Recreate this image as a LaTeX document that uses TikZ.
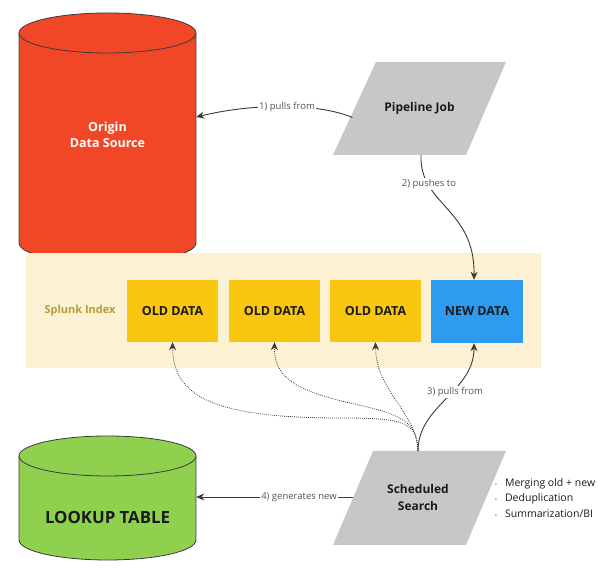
\documentclass[tikz,border=0pt]{standalone}
\usepackage{fontspec}
\setmainfont{Open Sans}
\usetikzlibrary{calc,arrows.meta}
\definecolor{cred}{HTML}{F24726}
\definecolor{cgreen}{HTML}{8FD14F}
\definecolor{cgrey}{HTML}{C9C7C5}
\definecolor{cyellow}{HTML}{FAC710}
\definecolor{cblue}{HTML}{2D9BF0}
\definecolor{ccream}{HTML}{FCF1D2}
\definecolor{colive}{HTML}{B79C3A}
\definecolor{cdark}{HTML}{1A1A1A}
\definecolor{cline}{HTML}{3A3A3A}
\definecolor{clabel}{HTML}{555555}
\tikzset{
  databox/.style={minimum width=91pt, minimum height=62pt, inner sep=0pt, font=\fontsize{12.5}{14}\selectfont\bfseries, text=cdark},
  cylbox/.style={minimum width=177pt, minimum height=250pt, inner sep=0pt},
  paratext/.style={font=\fontsize{12}{17}\selectfont\bfseries, text=cdark, align=center, minimum width=100pt, minimum height=93pt, inner sep=0pt},
  elabel/.style={font=\fontsize{9.5}{10}\selectfont, text=clabel, fill=white, inner sep=1.5pt},
  conn/.style={draw=cline, line width=0.9pt, -{Stealth[length=8pt,width=7pt]}},
  dotconn/.style={draw=cline, line width=0.8pt, dash pattern=on 0.8pt off 1.2pt, -{Stealth[length=8pt,width=7pt]}},
}
\begin{document}
\begin{tikzpicture}[x=1pt,y=1pt]
\useasboundingbox (0,0) rectangle (611,580);
% Origin data source cylinder
\fill[cred] (19,337) rectangle (196,547);
\fill[cred] (107.5,337) ellipse[x radius=88.5, y radius=20];
\draw[cline, line width=0.8pt] (19,547) -- (19,337) arc[start angle=180, end angle=360, x radius=88.5, y radius=20] -- (196,547);
\draw[cline, line width=0.8pt, fill=cred] (107.5,547) ellipse[x radius=88.5, y radius=20];
\node[cylbox, font=\fontsize{12.5}{16}\selectfont\bfseries, text=white, align=center] (origin) at (107.5,445) {Origin\\Data Source};
% Lookup table cylinder
\fill[cgreen] (19,40) rectangle (196,124);
\fill[cgreen] (107.5,40) ellipse[x radius=88.5, y radius=20];
\draw[cline, line width=0.8pt] (19,124) -- (19,40) arc[start angle=180, end angle=360, x radius=88.5, y radius=20] -- (196,124);
\draw[cline, line width=0.8pt, fill=cgreen] (107.5,124) ellipse[x radius=88.5, y radius=20];
\node[minimum width=177pt, minimum height=100pt, inner sep=0pt, font=\fontsize{16.8}{19}\selectfont\bfseries, text=cdark] (lookup) at (107.5,63) {LOOKUP TABLE};
% Pipeline job
\coordinate (pipec) at (419.5,471.5);
\fill[cgrey] ($(pipec)+(-86.5,-46.5)$) -- ($(pipec)+(46.5,-46.5)$) -- ($(pipec)+(86.5,46.5)$) -- ($(pipec)+(-43.5,46.5)$) -- cycle;
\node[paratext] (pipe) at (pipec) {Pipeline Job};
% Splunk index
\fill[ccream] (26,212) rectangle (541,327);
\node[font=\fontsize{11}{12}\selectfont\bfseries, text=colive] (splunk) at (80,269) {Splunk Index};
\node[databox, fill=cyellow] (old1) at (172.5,269) {OLD DATA};
\node[databox, fill=cyellow] (old2) at (274.5,269) {OLD DATA};
\node[databox, fill=cyellow] (old3) at (375.5,269) {OLD DATA};
\node[databox, fill=cblue, minimum width=92pt, minimum height=63pt] (new) at (477,268.5) {NEW DATA};
% Scheduled search
\coordinate (searchc) at (419.5,82);
\fill[cgrey] ($(searchc)+(-86.5,-47)$) -- ($(searchc)+(46.5,-47)$) -- ($(searchc)+(86.5,47)$) -- ($(searchc)+(-46.5,47)$) -- cycle;
\node[paratext] (search) at (418,82) {Scheduled\\Search};
% bullets
\node[anchor=west, font=\fontsize{10.5}{15.5}\selectfont, text=cdark, align=left, inner sep=0pt] (notes) at (495,82)
  {{\tiny\textbullet}\hspace{8pt}Merging old + new\\{\tiny\textbullet}\hspace{8pt}Deduplication\\{\tiny\textbullet}\hspace{8pt}Summarization/BI};
% connectors
\coordinate (pipeL) at ($(pipec)+(-67,-9)$);
\coordinate (pipeB) at ($(pipec)+(1.5,-46.5)$);
\coordinate (searchT) at ($(searchc)+(-1.5,47)$);
\coordinate (searchL) at ($(searchc)+(-67,1)$);
\draw[conn] (pipeL) .. controls (315,478) and (250,476) .. (origin.east |- 0,463);
\node[elabel] at (287,473) {1) pulls from};
\draw[conn] (pipeB) .. controls (419,375) and (475,372) .. (new.north -| 474,0);
\node[elabel] at (429,396) {2) pushes to};
\draw[dotconn] (searchT) .. controls (417,158) and (405,162) .. (340,162) .. controls (210,162) and (173,185) .. (old1.south);
\draw[dotconn] (searchT) .. controls (416,158) and (405,165) .. (350,177) .. controls (292,190) and (274,205) .. (old2.south);
\draw[dotconn] (searchT) .. controls (417,168) and (376,188) .. (old3.south);
\draw[conn] (searchT) .. controls (418,175) and (474,188) .. (new.south -| 474,0);
\node[elabel] at (455,188) {3) pulls from};
\draw[conn] (searchL) -- (lookup.east |- searchL);
\node[elabel] at (299,83) {4) generates new};
\end{tikzpicture}
\end{document}
